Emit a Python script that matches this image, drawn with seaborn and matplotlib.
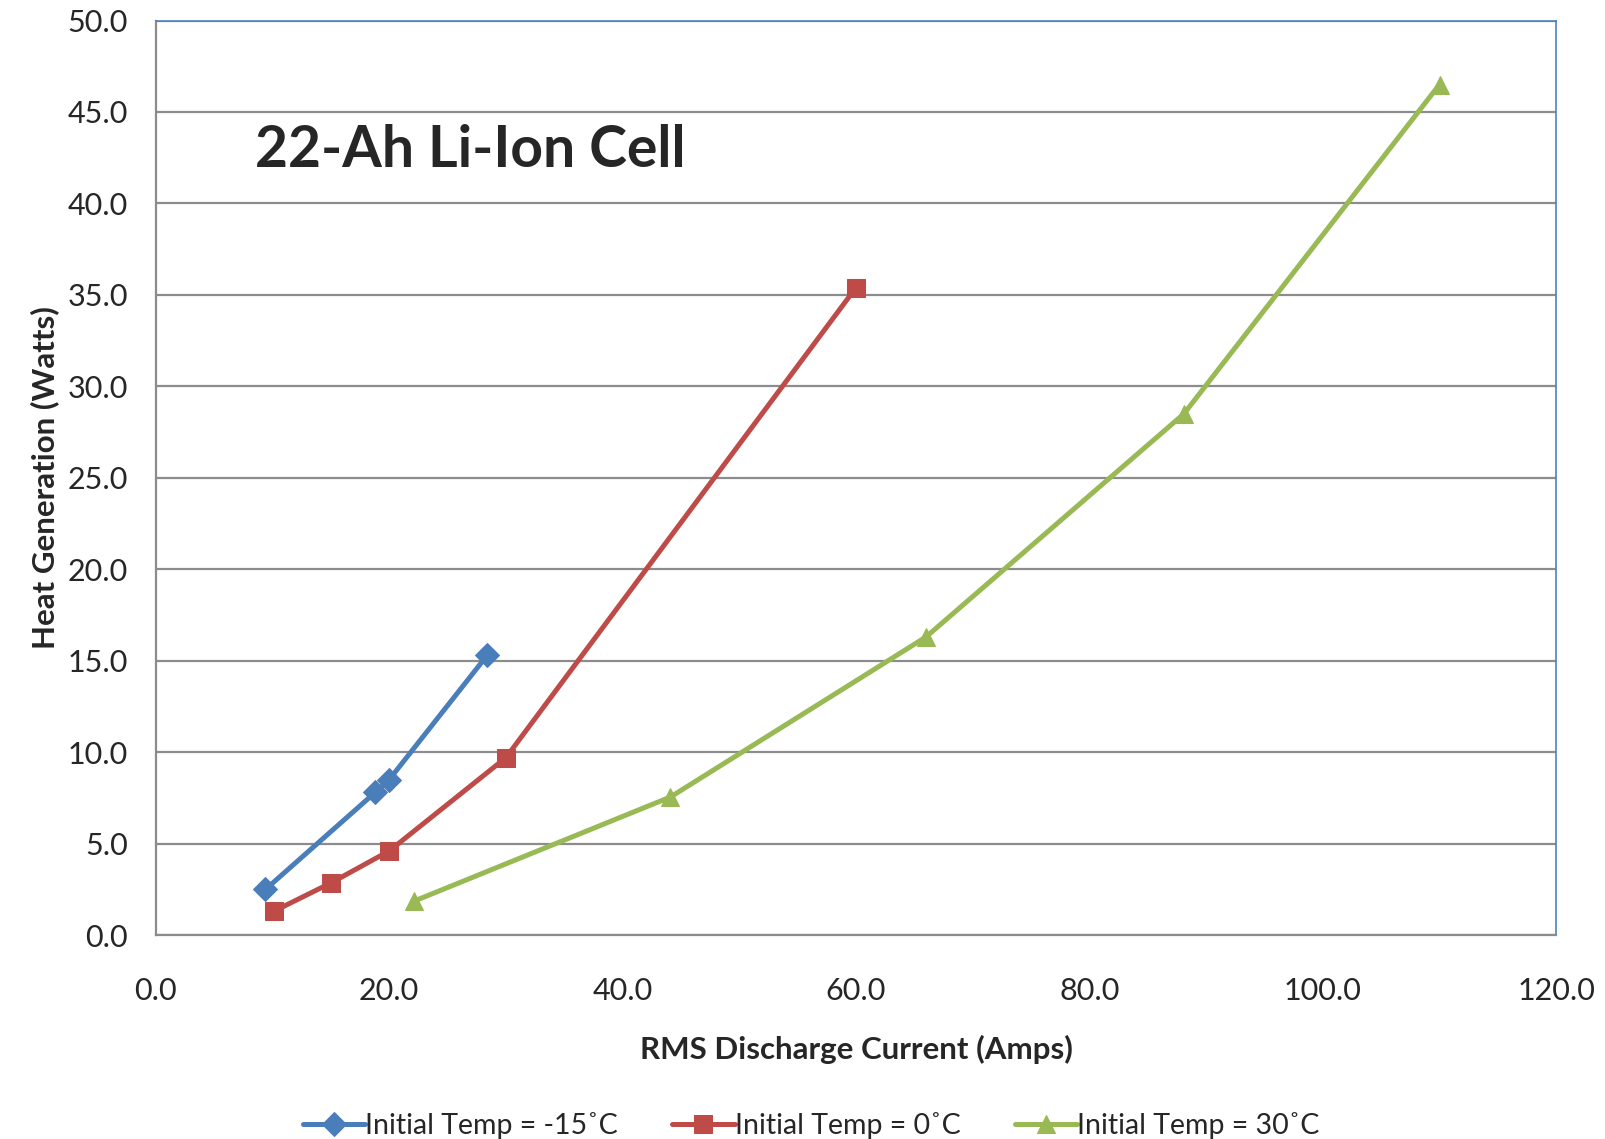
import pandas as pd
import matplotlib
matplotlib.use("Agg")
import matplotlib.pyplot as plt
import seaborn as sns

# values
cold_x = [9.4, 18.8, 20.0, 28.4]
cold_y = [2.5, 7.8, 8.5, 15.3]
zero_x = [10.1, 15.0, 20.0, 30.0, 60.0]
zero_y = [1.3, 2.85, 4.6, 9.7, 35.4]
warm_x = [22.1, 44.1, 66.0, 88.1, 110.0]
warm_y = [1.85, 7.55, 16.3, 28.5, 46.5]
labels = ["Initial Temp = -15\u02daC", "Initial Temp = 0\u02daC", "Initial Temp = 30\u02daC"]
colors = ["#4A7EBB", "#BE4B48", "#98B954"]
markers = ["D", "s", "^"]

rows = []
for lab, xs, ys in zip(labels, [cold_x, zero_x, warm_x], [cold_y, zero_y, warm_y]):
    for x, y in zip(xs, ys):
        rows.append({"current": x, "heat": y, "series": lab})
df = pd.DataFrame(rows)

sns.set_style("white")
plt.rcParams["font.family"] = ["Lato", "DejaVu Sans"]

fig, ax = plt.subplots(figsize=(16.06, 11.39), dpi=100)
fig.subplots_adjust(left=0.097, right=0.969, top=0.982, bottom=0.179)

sizes = {"D": 12, "s": 13, "^": 13}
for lab, c, m in zip(labels, colors, markers):
    sub = df[df["series"] == lab]
    sns.lineplot(data=sub, x="current", y="heat", ax=ax, color=c, marker=m,
                 markersize=sizes[m], markeredgecolor=c, linewidth=3.6,
                 sort=False, label=lab, legend=False)

ax.set_xlim(0, 120)
ax.set_ylim(0, 50)
ax.set_xticks(range(0, 121, 20))
ax.set_xticklabels([f"{v:.1f}" for v in range(0, 121, 20)], fontsize=22)
ax.set_yticks([i * 5 for i in range(11)])
ax.set_yticklabels([f"{i * 5:.1f}" for i in range(11)], fontsize=22)
ax.yaxis.grid(True, color="#8C8C8C", linewidth=1.6)
ax.set_axisbelow(True)

for s in ["left", "bottom"]:
    ax.spines[s].set_color("#8C8C8C")
    ax.spines[s].set_linewidth(1.6)
for s in ["top", "right"]:
    ax.spines[s].set_color("#4F81BD")
    ax.spines[s].set_linewidth(1.2)
ax.tick_params(axis="both", direction="out", length=8, width=1.6, color="#8C8C8C",
               pad=12)
ax.tick_params(axis="x", pad=22)

ax.set_xlabel("RMS Discharge Current (Amps)", fontsize=22.5, fontweight="bold", labelpad=22)
ax.set_ylabel("Heat Generation (Watts)", fontsize=22.5, fontweight="bold", labelpad=6)

ax.text(0.071, 0.858, "22-Ah Li-Ion Cell", transform=ax.transAxes, fontsize=41,
        fontweight="bold", va="center", ha="left")

handles, labs = ax.get_legend_handles_labels()
fig.legend(handles, labs, loc="center", bbox_to_anchor=(0.505, 0.012), ncol=3,
           frameon=False, fontsize=20.5, handlelength=2.2, handletextpad=0.0,
           columnspacing=1.9)

fig.savefig("out.png", dpi=100)
